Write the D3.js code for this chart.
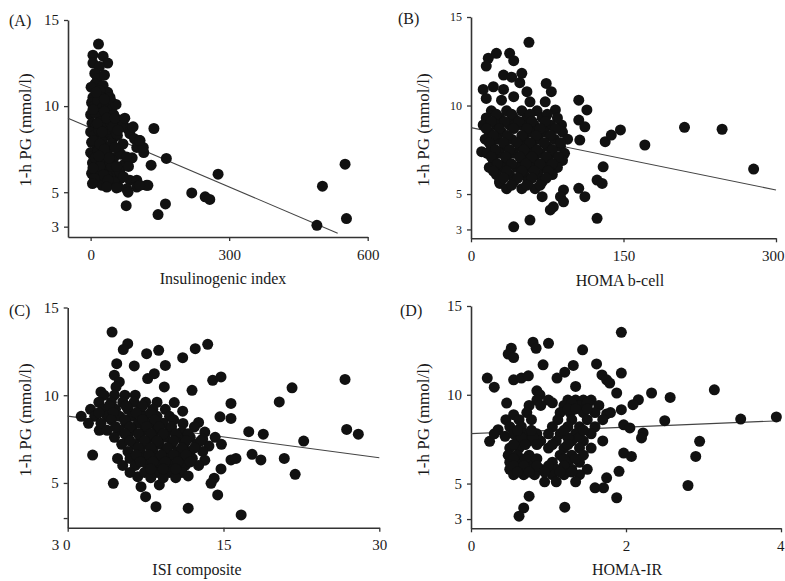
<!DOCTYPE html>
<html><head><meta charset="utf-8">
<script src="https://cdn.jsdelivr.net/npm/d3@7"></script>
<style>body{margin:0;background:#fff}svg{display:block}</style>
</head><body>
<svg id="c" width="785" height="581"></svg>
<script>
// ---------- data ----------
const yTicks = [3, 5, 10, 15];
const yTitle = "1-h PG (mmol/l)";

const aPoints = [
[17,13.6],[5,12.96],[27,12.9],[37,12.5],[5,12.5],[19,12.3],[9,11.9],[15,11.6],[30,11.8],[10,11.3],[1,11.1],[27,11.2],[37,10.8],[20,10.9],[5,10.5],[23,10.5],[45,10.25],
[2,10.2],[8,10.0],[15,10.3],[25,9.9],[35,10.1],[45,9.8],[55,10.1],
[0,9.5],[10,9.6],[20,9.4],[30,9.7],[40,9.3],[50,9.5],[62,9.2],
[3,9.0],[12,8.9],[22,9.1],[32,8.8],[44,9.0],[70,9.0],[80,8.7],
[0,8.5],[8,8.3],[18,8.6],[28,8.2],[38,8.5],[48,8.1],[58,8.3],[85,8.4],[95,8.1],
[2,7.9],[14,7.7],[24,8.0],[34,7.6],[46,7.8],[60,7.5],[100,7.6],[115,7.3],
[0,7.3],[6,7.1],[16,7.4],[26,7.0],[36,7.3],[50,7.0],[66,7.2],[90,7.0],
[4,6.7],[12,6.5],[22,6.8],[32,6.4],[42,6.7],[55,6.5],[72,6.6],
[2,6.1],[10,6.0],[20,6.2],[30,5.9],[40,6.2],[52,6.0],[65,5.8],[85,5.7],
[15,5.6],[25,5.4],[45,5.5],[60,5.3],
[5,9.8],[15,9.0],[25,8.5],[35,9.3],[6,8.0],[20,7.8],[30,7.5],[10,7.0],[20,6.5],[35,6.0],[45,6.5],[28,6.0],[40,7.0],[8,5.8],[50,5.6],[63,6.2],[70,7.8],[65,8.8],[42,10.5],[12,10.8],[30,10.4],[48,8.8],[18,7.1],[5,6.4],[38,5.7],
[53,9.3],[74,9.3],[92,8.8],[107,8.0],[114,7.6],[56,8.4],[53,7.6],[78,7.05],[56,6.5],[82,6.5],[71,5.9],[100,5.7],[59,8.6],[106,8.0],
[4,5.5],[35,5.3],[56,5.25],[78,5.2],[100,5.3],[121,5.4],[124,5.4],[81,5.0],[106,5.4],
[137,8.7],[164,6.96],[131,6.57],[77,4.22],[162,4.32],[146,3.7],[219,4.96],[248,4.73],[258,4.58],[276,6.05],[490,3.08],[502,5.35],[551,6.63],[554,3.47]
];
const aLine = [[-49, 9.3], [535, 2.62]];

const bPoints = [
[57,13.57],[17,12.67],[25,12.95],[15,12.23],[38,12.95],[42,12.53],
[32,11.72],[40,11.6],[50,11.82],[48,11.29],
[12,10.91],[22,11.06],[32,10.91],[15,10.4],[30,10.3],[42,10.5],[55,10.78],[58,10.21],
[74,11.25],[79,10.78],[73,10.21],[83,9.75],[106,10.3],[114,9.75],[106,9.18],[112,8.8],[89,8.9],[107,8.05],
[132,7.96],[138,8.33],[147,8.62],[171,7.77],[130,6.54],[124,5.79],[129,5.6],[106,5.32],[112,4.85],
[91,5.23],[88,4.85],[91,4.56],[81,4.28],[78,4.1],[70,4.85],[58,3.53],[42,3.15],[124,3.63],[10.5,7.39],
[210,8.77],[247,8.66],[278,6.41],[24,6.36],[28.5,5.6],
[20,9.7],[35,9.7],[50,9.7],[65,9.7],
[15,9.3],[28,9.3],[42,9.3],[55,9.3],[70,9.3],[85,9.3],
[12,8.9],[25,8.9],[38,8.9],[50,8.9],[62,8.9],[78,8.9],
[18,8.5],[30,8.5],[58,8.5],[72,8.5],[90,8.5],
[14,8.1],[26,8.1],[40,8.1],[52,8.1],[66,8.1],[82,8.1],[95,8.1],
[20,7.7],[33,7.7],[48,7.7],[60,7.7],[75,7.7],[88,7.7],
[16,7.3],[28,7.3],[42,7.3],[55,7.3],[68,7.3],[80,7.3],[92,7.3],
[22,6.9],[35,6.9],[50,6.9],[62,6.9],[76,6.9],[90,6.9],
[18,6.5],[30,6.5],[45,6.5],[58,6.5],[72,6.5],[85,6.5],
[25,6.1],[38,6.1],[52,6.1],[66,6.1],[80,6.1],
[28,5.7],[42,5.7],[56,5.7],[70,5.7],
[35,5.3],[50,5.3],[63,5.3],
[25,9.5],[40,9.5],[58,9.5],[75,9.5],
[20,9.1],[33,9.1],[47,9.1],[60,9.1],[73,9.1],
[15,8.7],[28,8.7],[42,8.7],[55,8.7],[68,8.7],[83,8.7],
[22,8.3],[36,8.3],[50,8.3],[64,8.3],[78,8.3],
[18,7.9],[32,7.9],[45,7.9],[58,7.9],[72,7.9],[88,7.9],
[24,7.5],[38,7.5],[52,7.5],[65,7.5],[80,7.5],
[20,7.1],[34,7.1],[48,7.1],[60,7.1],[74,7.1],[86,7.1],
[26,6.7],[40,6.7],[54,6.7],[68,6.7],[80,6.7],
[22,6.3],[35,6.3],[50,6.3],[62,6.3],[76,6.3],
[32,5.9],[46,5.9],[60,5.9],[74,5.9],
[40,5.5],[55,5.5],[68,5.5]
];
const bLine = [[0, 8.75], [300, 5.23]];

const cPoints = [
[4.27,13.6],[5.78,12.94],[5.35,12.6],[7.6,12.37],[8.76,12.56],[11.07,12.14],[12.28,12.65],[13.48,12.9],
[4.72,11.8],[6.41,11.67],[9.4,11.7],[7.7,10.95],[8.34,11.23],[4.49,11.14],[4.97,10.76],[4.65,10.47],
[9.3,10.47],[11.97,10.28],[13.96,10.85],[14.76,11.04],[3.2,10.19],
[15.72,9.53],[15.72,8.68],[14.66,8.77],[20.37,9.62],[21.6,10.42],[17.43,7.92],[18.83,7.78],[22.72,7.39],
[17.75,6.63],[18.6,6.31],[20.85,6.4],[21.9,5.49],[15.72,6.31],[16.2,6.4],
[14.76,5.8],[14.1,5.27],[13.8,4.98],[14.44,4.32],[16.7,3.18],[11.6,3.56],[8.5,3.65],[7.5,4.22],[4.39,4.98],[2.4,6.59],
[6.74,5.36],[7.06,4.79],[8.82,4.89],[12.6,8.45],[11.1,8.39],[10.26,9.58],[11.07,9.09],
[26.7,10.9],[26.86,8.05],[27.98,7.78],[3.04,8.0],
[3.5,10.0],[4.5,10.0],[5.5,10.0],[6.5,10.0],
[3,9.6],[4.2,9.6],[5.3,9.6],[6.4,9.6],[7.5,9.6],[8.6,9.6],
[2.2,9.2],[3.4,9.2],[4.6,9.2],[5.8,9.2],[7.0,9.2],[8.2,9.2],[9.4,9.2],
[1.3,8.8],[2.6,8.8],[3.8,8.8],[5.0,8.8],[6.2,8.8],[7.4,8.8],[8.6,8.8],[9.8,8.8],
[2.0,8.4],[3.2,8.4],[5.6,8.4],[6.8,8.4],[8.0,8.4],[9.2,8.4],[12.2,8.2],
[3.8,8.0],[5.0,8.0],[6.2,8.0],[7.4,8.0],[8.6,8.0],[9.8,8.0],[11.0,7.9],[13.2,7.9],
[4.5,7.6],[5.8,7.6],[7.0,7.6],[8.2,7.6],[9.4,7.6],[10.6,7.6],[11.8,7.6],[13.0,7.5],[14.2,7.6],
[5.2,7.2],[6.4,7.2],[7.6,7.2],[8.8,7.2],[10.0,7.2],[11.2,7.2],[12.4,7.2],[13.6,7.1],[14.8,7.2],
[5.8,6.8],[7.0,6.8],[8.2,6.8],[9.4,6.8],[10.6,6.8],[11.8,6.8],[13.0,6.8],
[4.8,6.4],[6.0,6.4],[7.2,6.4],[8.4,6.4],[9.6,6.4],[10.8,6.4],[12.0,6.4],[13.2,6.3],
[5.3,6.0],[6.5,6.0],[7.7,6.0],[8.9,6.0],[10.1,6.0],[11.3,6.0],[12.6,6.0],
[6.0,5.6],[7.4,5.6],[8.6,5.6],[9.8,5.6],[11.0,5.6],
[8.0,5.3],[9.2,5.3],[10.4,5.3],[11.6,5.4],
[4.0,9.4],[5.6,9.4],[7.2,9.4],
[3.0,9.0],[4.4,9.0],[6.6,9.0],[8.0,9.0],
[4.2,8.6],[5.5,8.6],[7.2,8.6],[8.4,8.6],[10.2,8.6],
[4.6,8.2],[6.0,8.2],[7.6,8.2],[8.8,8.2],[10.0,8.2],
[5.5,7.8],[6.8,7.8],[8.0,7.8],[9.2,7.8],[10.4,7.8],[11.6,7.8],
[6.0,7.4],[7.4,7.4],[8.6,7.4],[10.2,7.4],[11.4,7.4],[12.8,7.4],
[6.8,7.0],[8.0,7.0],[9.6,7.0],[11.0,7.0],[12.2,7.0],
[6.6,6.6],[7.8,6.6],[9.0,6.6],[10.2,6.6],[11.4,6.6],
[7.0,6.2],[8.2,6.2],[9.4,6.2],[10.6,6.2],[11.8,6.2],
[8.0,5.8],[9.2,5.8],[10.4,5.8]
];
const cLine = [[0, 8.81], [30, 6.44]];

const dPoints = [
[1.94,13.52],[0.52,12.62],[0.48,12.29],[0.55,12.1],[0.80,12.96],[0.84,12.62],[1.0,12.9],[1.44,12.53],
[0.93,11.69],[1.32,11.65],[1.21,11.27],[1.11,10.94],[1.62,11.74],[1.69,11.12],[1.75,10.84],[1.79,10.66],[1.94,11.22],
[1.88,10.1],[1.35,10.47],[0.55,10.84],[0.65,10.94],[0.74,11.07],[0.21,10.94],[0.30,10.43],[0.85,10.22],[0.89,10.0],
[2.33,10.1],[2.57,9.85],[3.14,10.28],[2.16,9.72],[2.09,9.44],[1.94,9.16],[1.75,8.92],[2.5,8.54],
[1.97,8.31],[2.05,8.13],[2.22,7.85],[2.2,7.57],[1.97,6.72],[2.07,6.53],[2.95,7.38],[2.9,6.53],[2.8,4.89],
[1.91,5.69],[1.88,4.2],[1.75,5.32],[1.6,4.76],[1.71,4.76],[1.21,3.67],[0.75,4.29],[0.68,3.63],[0.62,3.16],
[0.24,7.38],[0.35,8.03],[0.44,7.66],[0.46,9.53],[0.55,8.88],[3.48,8.63],[3.94,8.75],
[0.85,9.7],[1.0,9.7],[1.25,9.7],[1.35,9.7],[1.45,9.7],[1.55,9.7],
[0.75,9.4],[0.9,9.4],[1.2,9.4],[1.3,9.4],[1.4,9.4],[1.5,9.4],[1.65,9.4],
[0.72,9.0],[1.15,9.0],[1.28,9.0],[1.45,9.0],[1.6,9.0],[1.8,9.0],
[0.45,8.6],[0.62,8.6],[0.78,8.6],[1.12,8.6],[1.3,8.6],[1.5,8.6],[1.7,8.6],
[0.5,8.2],[0.65,8.2],[1.05,8.2],[1.25,8.2],[1.4,8.2],[1.6,8.2],
[0.3,7.8],[0.55,7.8],[0.7,7.8],[0.85,7.8],[1.0,7.8],[1.15,7.8],[1.35,7.8],[1.55,7.8],
[0.6,7.4],[0.75,7.4],[0.9,7.4],[1.1,7.4],[1.3,7.4],[1.45,7.4],[1.7,7.4],
[0.5,7.0],[0.62,7.0],[1.0,7.0],[1.2,7.0],[1.4,7.0],[1.55,7.0],
[0.48,6.6],[0.6,6.6],[0.75,6.6],[1.15,6.6],[1.3,6.6],[1.45,6.6],
[0.5,6.2],[0.62,6.2],[0.78,6.2],[1.05,6.2],[1.25,6.2],[1.4,6.2],
[0.5,5.8],[0.62,5.8],[0.75,5.8],[0.9,5.8],[1.1,5.8],[1.3,5.8],[1.5,5.8],
[0.55,5.5],[0.68,5.5],[0.82,5.5],[1.05,5.5],[1.2,5.5],[1.4,5.5],
[0.95,5.1],[1.1,5.1],[1.35,5.1],
[1.05,9.55],[1.3,9.55],[1.5,9.55],
[1.25,9.2],[1.35,9.2],[1.5,9.2],
[0.65,7.6],[0.8,7.6],[1.25,7.6],[1.4,7.6],
[0.55,7.2],[0.7,7.2],[0.85,7.2],[1.05,7.2],[1.25,7.2],
[0.55,6.4],[0.7,6.4],[0.85,6.4],[1.2,6.4],[1.35,6.4],
[0.55,6.0],[0.68,6.0],[0.85,6.0],[1.0,6.0],[1.2,6.0],
[0.6,5.65],[0.75,5.65],[0.95,5.65],[1.15,5.65],[1.3,5.65],
[0.6,8.0],[0.78,8.0],[1.2,8.0],[1.45,8.0]
];
const dLine = [[0, 7.81], [4, 8.54]];

const panelLabels = ["(A)", "(B)", "(C)", "(D)"];
const xTitles = ["Insulinogenic index", "HOMA b-cell", "ISI composite", "HOMA-IR"];
const xTicksA = [0, 300, 600];
const xTicksB = [0, 150, 300];
const xTicksC = [0, 15, 30];
const xTicksD = [0, 2, 4];
const xTickLabelsC = ["3 0", "15", "30"];
const yTickLabelsC = ["", "5", "10", "15"];

// ---------- layout ----------
const svg = d3.select("#c");
const font = "'Liberation Serif','Times New Roman',serif";
const ink = "#1a1a1a";

const panels = [
  {pts: aPoints, line: aLine, xd: [-49, 600], xr: [68, 367.7], yd: [2.4, 15], yr: [237, 20], xt: xTicksA,
   label: panelLabels[0], lab: [9, 26], title: xTitles[0], tpos: [223, 284], ytpos: [25, 130], ytSize: 15},
  {pts: bPoints, line: bLine, xd: [0, 300], xr: [471, 776], yd: [2.5, 15], yr: [238.3, 17], xt: xTicksB,
   label: panelLabels[1], lab: [398, 24], title: xTitles[1], tpos: [620, 286], ytpos: [423, 130], ytSize: 12},
  {pts: cPoints, line: cLine, xd: [0, 30], xr: [67.7, 379.3], yd: [2.45, 15], yr: [527.7, 307.5], xt: xTicksC,
   xtl: xTickLabelsC, ytl: yTickLabelsC,
   label: panelLabels[2], lab: [9, 316], title: xTitles[2], tpos: [197, 575], ytpos: [25, 420], ytSize: 15},
  {pts: dPoints, line: dLine, xd: [0, 4], xr: [471, 781], yd: [2.48, 15], yr: [528.3, 306], xt: xTicksD,
   label: panelLabels[3], lab: [400, 316], title: xTitles[3], tpos: [627, 575], ytpos: [423, 420], ytSize: 15}
];

panels.forEach((p, i) => {
  const x = d3.scaleLinear().domain(p.xd).range(p.xr);
  const y = d3.scaleLinear().domain(p.yd).range(p.yr);
  const g = svg.append("g");

  const xAxis = d3.axisBottom(x).tickValues(p.xt).tickSize(4).tickSizeOuter(0).tickPadding(8)
    .tickFormat((d, k) => p.xtl ? p.xtl[k] : d);
  const yAxis = d3.axisLeft(y).tickValues(yTicks).tickSize(4).tickSizeOuter(0).tickPadding(5)
    .tickFormat((d, k) => p.ytl ? p.ytl[k] : d);

  const gx = g.append("g").attr("transform", `translate(0,${p.yr[0]})`).call(xAxis);
  const gy = g.append("g").attr("transform", `translate(${p.xr[0]},0)`).call(yAxis);
  [gx, gy].forEach(a => {
    a.select(".domain").attr("stroke", "#333").attr("stroke-width", 1.6);
    a.selectAll(".tick line").attr("stroke", "#333").attr("stroke-width", 1.3);
    a.selectAll(".tick text").attr("fill", ink).attr("font-family", font).attr("font-size", 15);
  });
  gy.selectAll(".tick text").attr("font-size", p.ytSize);
  if (p.xtl) gx.selectAll(".tick text").filter((d, k) => k === 0).attr("dx", -7);
  // keep the right-most tick label inside the picture
  gx.selectAll(".tick text").filter(function () {
    return p.xr[1] + 12 > 785 && d3.select(this.parentNode).datum() === p.xt[p.xt.length - 1];
  }).attr("text-anchor", "end").attr("dx", 784 - p.xr[1]);

  g.append("line")
    .attr("x1", x(p.line[0][0])).attr("y1", y(p.line[0][1]))
    .attr("x2", x(p.line[1][0])).attr("y2", y(p.line[1][1]))
    .attr("stroke", "#444").attr("stroke-width", 1.1);

  g.append("g").selectAll("circle").data(p.pts).join("circle")
    .attr("cx", d => x(d[0])).attr("cy", d => y(d[1])).attr("r", 5.5)
    .attr("fill", "#111");

  g.append("text").attr("x", p.lab[0]).attr("y", p.lab[1]).text(p.label)
    .attr("font-family", font).attr("font-size", 16).attr("fill", ink);
  g.append("text").attr("x", p.tpos[0]).attr("y", p.tpos[1]).attr("text-anchor", "middle")
    .text(p.title).attr("font-family", font).attr("font-size", 16).attr("fill", ink);
  g.append("text").attr("transform", `translate(${p.ytpos[0]},${p.ytpos[1]}) rotate(-90)`)
    .attr("text-anchor", "middle").attr("dy", "0.35em").text(yTitle)
    .attr("font-family", font).attr("font-size", 17).attr("fill", ink);
});
</script>
</body></html>
